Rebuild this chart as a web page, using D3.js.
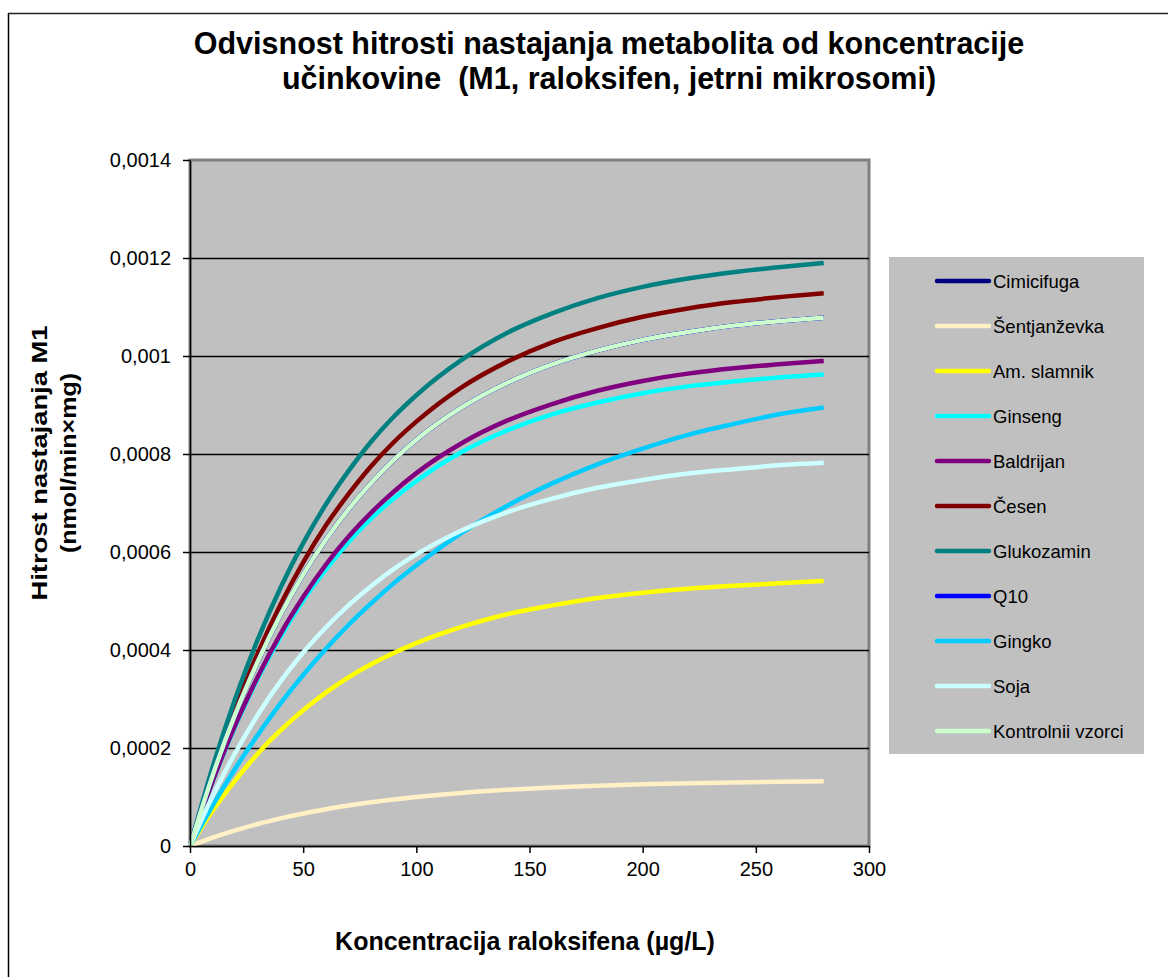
<!DOCTYPE html>
<html>
<head>
<meta charset="utf-8">
<script src="https://cdn.jsdelivr.net/npm/d3@7"></script>
<style>
  body { margin: 0; background: #fff; }
  text { font-family: "Liberation Sans", Arial, sans-serif; white-space: pre; }
</style>
</head>
<body>
<svg id="plot" width="1168" height="977"></svg>
<script>
// concentration values (x) shared by every series
let conc = [0, 10, 20, 30, 40, 50, 60, 70, 80, 90, 100, 120, 140, 160, 180, 200, 220, 240, 260, 280];

// series names, colours and values
let names = ["Cimicifuga", "Šentjanževka", "Am. slamnik", "Ginseng", "Baldrijan", "Česen",
             "Glukozamin", "Q10", "Gingko", "Soja", "Kontrolnii vzorci"];
let colors = ["#000080", "#FFF0C6", "#FFFF00", "#00FFFF", "#800080", "#800000",
              "#008080", "#0000FF", "#00CCFF", "#CCFFFF", "#CCFFCC"];

let cimicifuga = [0, 0.000144, 0.000269, 0.000377, 0.000472, 0.000554, 0.000625, 0.000687, 0.000741, 0.000788, 0.000829, 0.000895, 0.000945, 0.000983, 0.001011, 0.001033, 0.001049, 0.001062, 0.001071, 0.001078];
let sentjanzevka = [0, 0.0000171, 0.0000319, 0.000045, 0.0000563, 0.0000663, 0.0000749, 0.0000825, 0.0000892, 0.0000949, 0.0001, 0.0001083, 0.0001146, 0.0001194, 0.0001231, 0.0001259, 0.0001281, 0.0001297, 0.000131, 0.0001319];
let slamnik = [0, 0.0000718, 0.000134, 0.000189, 0.000236, 0.000277, 0.000313, 0.000344, 0.000371, 0.000394, 0.000414, 0.000447, 0.000473, 0.000491, 0.000506, 0.000517, 0.000525, 0.000531, 0.000536, 0.000541];
let ginseng = [0, 0.000131, 0.000244, 0.000342, 0.000427, 0.000501, 0.000564, 0.00062, 0.000668, 0.000709, 0.000745, 0.000804, 0.000848, 0.000881, 0.000905, 0.000924, 0.000938, 0.000948, 0.000956, 0.000962];
let baldrijan = [0, 0.000132, 0.000247, 0.000346, 0.000433, 0.000508, 0.000574, 0.000631, 0.00068, 0.000723, 0.000761, 0.000822, 0.000868, 0.000902, 0.000929, 0.000949, 0.000964, 0.000975, 0.000983, 0.00099];
let cesen = [0, 0.00015, 0.000281, 0.000394, 0.000493, 0.000579, 0.000654, 0.000718, 0.000775, 0.000824, 0.000866, 0.000936, 0.000988, 0.001028, 0.001057, 0.00108, 0.001097, 0.00111, 0.00112, 0.001128];
let glukozamin = [0, 0.000161, 0.000301, 0.000422, 0.000527, 0.000618, 0.000697, 0.000765, 0.000825, 0.000876, 0.00092, 0.000992, 0.001047, 0.001087, 0.001118, 0.001141, 0.001158, 0.001171, 0.001181, 0.00119];
let q10 = [0, 0.000144, 0.000269, 0.000377, 0.000472, 0.000554, 0.000625, 0.000687, 0.000741, 0.000788, 0.000829, 0.000895, 0.000945, 0.000983, 0.001011, 0.001033, 0.001049, 0.001062, 0.001071, 0.001078];
let gingko = [0, 0.0000825, 0.000158, 0.000227, 0.000291, 0.000349, 0.000402, 0.000451, 0.000495, 0.000536, 0.000573, 0.000639, 0.000694, 0.00074, 0.000779, 0.000811, 0.000839, 0.000861, 0.000881, 0.000895];
let soja = [0, 0.000102, 0.00019, 0.000268, 0.000336, 0.000395, 0.000446, 0.000491, 0.00053, 0.000565, 0.000595, 0.000644, 0.000681, 0.000709, 0.000731, 0.000747, 0.00076, 0.000769, 0.000777, 0.000782];
let kontrolni = [0, 0.000144, 0.000269, 0.000377, 0.000472, 0.000554, 0.000625, 0.000687, 0.000741, 0.000788, 0.000829, 0.000895, 0.000945, 0.000983, 0.001011, 0.001033, 0.001049, 0.001062, 0.001071, 0.001078];

let allValues = [cimicifuga, sentjanzevka, slamnik, ginseng, baldrijan, cesen,
                 glukozamin, q10, gingko, soja, kontrolni];

// tick values and labels
let xTicks = [0, 50, 100, 150, 200, 250, 300];
let yTicks = [0, 0.0002, 0.0004, 0.0006, 0.0008, 0.001, 0.0012, 0.0014];
let yTickLabels = ["0", "0,0002", "0,0004", "0,0006", "0,0008", "0,001", "0,0012", "0,0014"];

let svg = d3.select("#plot");

//bounds of the plot area
let margin_left = 190, margin_top = 160;
let plot_width = 679, plot_height = 686;

let x_scale = d3.scaleLinear([0, 300], [margin_left, margin_left + plot_width]);
let y_scale = d3.scaleLinear([0, 0.0014], [margin_top + plot_height, margin_top]);

//outer chart frame (only left and top edges show in the picture)
svg.append("line").attr("x1", 8.5).attr("x2", 8.5).attr("y1", 13).attr("y2", 977)
  .attr("stroke", "#000").attr("stroke-width", 1.5);
svg.append("line").attr("x1", 8).attr("x2", 1168).attr("y1", 13.5).attr("y2", 13.5)
  .attr("stroke", "#222").attr("stroke-width", 1.5);

//plot background with grey border
svg.append("rect")
  .attr("x", margin_left).attr("y", margin_top)
  .attr("width", plot_width).attr("height", plot_height)
  .attr("fill", "#C0C0C0")
  .attr("stroke", "#808080").attr("stroke-width", 3);

//horizontal gridlines
svg.append("g").selectAll("line")
  .data(yTicks.slice(1, -1))
  .join("line")
  .attr("x1", margin_left).attr("x2", margin_left + plot_width)
  .attr("y1", d => Math.round(y_scale(d)) + 0.5).attr("y2", d => Math.round(y_scale(d)) + 0.5)
  .attr("stroke", "#000").attr("stroke-width", 1.5);

//series lines
let line = d3.line()
  .x((d, i) => x_scale(conc[i]))
  .y(d => y_scale(d))
  .curve(d3.curveMonotoneX);

svg.append("g").selectAll("path")
  .data(allValues)
  .join("path")
  .attr("d", d => line(d))
  .attr("fill", "none")
  .attr("stroke", (d, i) => colors[i])
  .attr("stroke-width", 4.5)
  .attr("stroke-linejoin", "round");

//axes
let xAxis = d3.axisBottom(x_scale).tickValues(xTicks).tickSize(7).tickSizeOuter(0).tickPadding(9);
let yAxis = d3.axisLeft(y_scale).tickValues(yTicks).tickSize(7).tickSizeOuter(0).tickPadding(12)
  .tickFormat((d, i) => yTickLabels[i]);

let x_ax = svg.append("g")
  .attr("transform", `translate(0,${margin_top + plot_height})`)
  .call(xAxis);
let y_ax = svg.append("g")
  .attr("transform", `translate(${margin_left},0)`)
  .call(yAxis);

[x_ax, y_ax].forEach(ax => {
  ax.select(".domain").attr("stroke", "#000").attr("stroke-width", 1.5);
  ax.selectAll(".tick line").attr("stroke", "#000").attr("stroke-width", 1.5);
  ax.selectAll(".tick text").attr("font-size", 20).attr("fill", "#000")
    .attr("font-family", "Liberation Sans, Arial, sans-serif");
});

//title
let title = svg.append("text")
  .attr("text-anchor", "middle")
  .attr("font-size", 30.5).attr("font-weight", "bold");
title.append("tspan").attr("x", 609).attr("y", 54)
  .text("Odvisnost hitrosti nastajanja metabolita od koncentracije");
title.append("tspan").attr("x", 609).attr("y", 89)
  .text("učinkovine  (M1, raloksifen, jetrni mikrosomi)");

//x-axis label
svg.append("text")
  .attr("text-anchor", "middle")
  .attr("x", 525).attr("y", 950)
  .attr("font-size", 25).attr("font-weight", "bold")
  .text("Koncentracija raloksifena (µg/L)");

//y-axis label (two lines, rotated, stretched along the text like the original)
let y_lab = svg.append("text")
  .attr("text-anchor", "middle")
  .attr("transform", `translate(47,463) rotate(-90)`)
  .attr("font-size", 22).attr("font-weight", "bold");
y_lab.append("tspan").attr("x", 0).attr("y", 0)
  .attr("textLength", 275).attr("lengthAdjust", "spacingAndGlyphs")
  .text("Hitrost nastajanja M1");
y_lab.append("tspan").attr("x", 0).attr("y", 29)
  .attr("textLength", 180).attr("lengthAdjust", "spacingAndGlyphs")
  .text("(nmol/min×mg)");

//legend
let legend = svg.append("g");
legend.append("rect")
  .attr("x", 889).attr("y", 257)
  .attr("width", 255).attr("height", 497)
  .attr("fill", "#C0C0C0");

let rows = legend.selectAll("g.row")
  .data(names)
  .join("g")
  .attr("class", "row")
  .attr("transform", (d, i) => `translate(0,${281 + i * 45})`);
rows.append("line")
  .attr("x1", 937).attr("x2", 989)
  .attr("stroke", (d, i) => colors[i])
  .attr("stroke-width", 4.5).attr("stroke-linecap", "round");
rows.append("text")
  .attr("x", 993).attr("y", 7)
  .attr("font-size", 18.5)
  .text(d => d);
</script>
</body>
</html>
